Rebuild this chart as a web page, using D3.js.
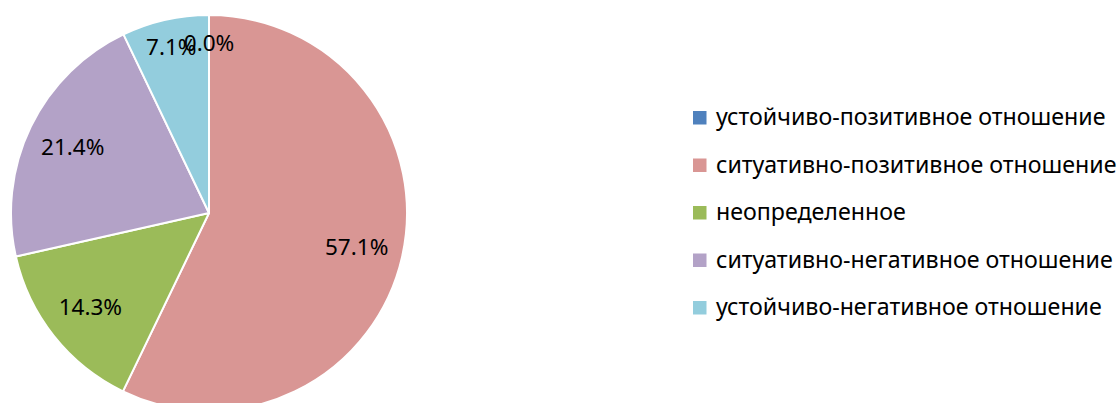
<!DOCTYPE html>
<html>
<head>
<meta charset="utf-8">
<script src="https://cdn.jsdelivr.net/npm/d3@7"></script>
<style>
html,body{margin:0;padding:0;background:#fff;}
svg{display:block;font-family:"Noto Sans",sans-serif;}
</style>
</head>
<body>
<svg id="chart" width="1119" height="403"></svg>
<script>
const categories = [
  "устойчиво-позитивное отношение",
  "ситуативно-позитивное отношение",
  "неопределенное",
  "ситуативно-негативное отношение",
  "устойчиво-негативное отношение"
];
const values = [0.0, 57.1, 14.3, 21.4, 7.1];
const labels = ["0.0%", "57.1%", "14.3%", "21.4%", "7.1%"];
const colors = ["#4F81BD", "#D99694", "#9BBB59", "#B3A2C7", "#93CDDD"];

const svg = d3.select("#chart");
const cx = 209, cy = 213, R = 198;
const total = d3.sum(values);

const pie = d3.pie().sort(null).value(d => d).startAngle(0).endAngle(2 * Math.PI);
const arcs = pie(values);
const arc = d3.arc().innerRadius(0).outerRadius(R);

const g = svg.append("g").attr("transform", `translate(${cx},${cy})`);
g.selectAll("path.slice").data(arcs).enter().append("path")
  .attr("class", "slice")
  .attr("d", arc)
  .attr("fill", (d, i) => colors[i])
  .attr("stroke", "#fff")
  .attr("stroke-width", 2)
  .attr("stroke-linejoin", "round");

g.selectAll("text.lbl").data(arcs).enter().append("text")
  .attr("class", "lbl")
  .attr("transform", d => {
    const frac = d.data / total;
    const lr = (frac < 0.1 ? 0.86 : 0.765) * R;
    const a = (d.startAngle + d.endAngle) / 2;
    return `translate(${lr * Math.sin(a)},${-lr * Math.cos(a)})`;
  })
  .attr("text-anchor", "middle")
  .attr("dy", "0.36em")
  .attr("font-size", 22.5)
  .attr("fill", "#000")
  .text((d, i) => labels[i]);

const legend = svg.append("g").attr("transform", "translate(693,117.5)");
const rowH = 47.5;
const items = legend.selectAll("g").data(categories).enter().append("g")
  .attr("transform", (d, i) => `translate(0,${i * rowH})`);
items.append("rect")
  .attr("x", 0).attr("y", -6.5).attr("width", 13.5).attr("height", 13.5)
  .attr("fill", (d, i) => colors[i]);
items.append("text")
  .attr("x", 23).attr("y", 0).attr("dy", "0.33em")
  .attr("font-size", 23.2)
  .attr("fill", "#000")
  .text(d => d);
</script>
</body>
</html>
